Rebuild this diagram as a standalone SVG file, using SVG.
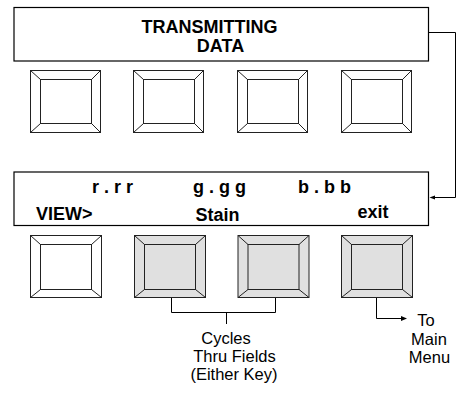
<svg xmlns="http://www.w3.org/2000/svg" width="456" height="393" viewBox="0 0 456 393">
<defs>
<style>
.frame{fill:#fff;stroke:#000;stroke-width:1.2}
.btn rect, .btn line{stroke:#222;stroke-width:1;fill:none}
.btn rect.o{fill:#fff}
.btn.g rect.o{fill:#e0e0e0}
.bt{font-family:"Liberation Sans",Arial,sans-serif;font-weight:bold;font-size:18px;fill:#000}
.nt{font-family:"Liberation Sans",Arial,sans-serif;font-size:16.5px;fill:#000}
.con{fill:none;stroke:#000;stroke-width:1}
.ah{fill:#000}
</style>
</defs>

<g id="display1">
<rect class="frame" x="14" y="7.5" width="414.5" height="53.5"/>
<text class="bt" x="209.5" y="32.5" text-anchor="middle">TRANSMITTING</text>
<text class="bt" x="220.5" y="52" text-anchor="middle">DATA</text>
</g>

<g id="k1a" class="btn"><rect class="o" x="30.5" y="70.5" width="70" height="62"/><rect x="40.5" y="79.5" width="51" height="44"/><line x1="30.5" y1="70.5" x2="40.5" y2="79.5"/><line x1="100.5" y1="70.5" x2="91.5" y2="79.5"/><line x1="30.5" y1="132.5" x2="40.5" y2="123.5"/><line x1="100.5" y1="132.5" x2="91.5" y2="123.5"/></g>
<g id="k1b" class="btn"><rect class="o" x="133.5" y="70.5" width="70" height="62"/><rect x="143.5" y="79.5" width="51" height="44"/><line x1="133.5" y1="70.5" x2="143.5" y2="79.5"/><line x1="203.5" y1="70.5" x2="194.5" y2="79.5"/><line x1="133.5" y1="132.5" x2="143.5" y2="123.5"/><line x1="203.5" y1="132.5" x2="194.5" y2="123.5"/></g>
<g id="k1c" class="btn"><rect class="o" x="237.5" y="70.5" width="70" height="62"/><rect x="247.5" y="79.5" width="51" height="44"/><line x1="237.5" y1="70.5" x2="247.5" y2="79.5"/><line x1="307.5" y1="70.5" x2="298.5" y2="79.5"/><line x1="237.5" y1="132.5" x2="247.5" y2="123.5"/><line x1="307.5" y1="132.5" x2="298.5" y2="123.5"/></g>
<g id="k1d" class="btn"><rect class="o" x="341.5" y="70.5" width="70" height="62"/><rect x="351.5" y="79.5" width="51" height="44"/><line x1="341.5" y1="70.5" x2="351.5" y2="79.5"/><line x1="411.5" y1="70.5" x2="402.5" y2="79.5"/><line x1="341.5" y1="132.5" x2="351.5" y2="123.5"/><line x1="411.5" y1="132.5" x2="402.5" y2="123.5"/></g>

<g id="display2">
<rect class="frame" x="14" y="172" width="414.5" height="53.5"/>
<text class="bt" x="92" y="193">r . r r</text>
<text class="bt" x="193" y="193">g . g g</text>
<text class="bt" x="298" y="193">b . b b</text>
<text class="bt" x="36" y="220">VIEW&gt;</text>
<text class="bt" x="217.5" y="220.5" text-anchor="middle">Stain</text>
<text class="bt" x="373" y="218" text-anchor="middle">exit</text>
</g>

<g id="k2a" class="btn"><rect class="o" x="30.5" y="235.5" width="71" height="62"/><rect x="40.5" y="244.5" width="51" height="45"/><line x1="30.5" y1="235.5" x2="40.5" y2="244.5"/><line x1="101.5" y1="235.5" x2="91.5" y2="244.5"/><line x1="30.5" y1="297.5" x2="40.5" y2="289.5"/><line x1="101.5" y1="297.5" x2="91.5" y2="289.5"/></g>
<g id="k2b" class="btn g"><rect class="o" x="134.5" y="235.5" width="71" height="62"/><rect x="144.5" y="244.5" width="51" height="45"/><line x1="134.5" y1="235.5" x2="144.5" y2="244.5"/><line x1="205.5" y1="235.5" x2="195.5" y2="244.5"/><line x1="134.5" y1="297.5" x2="144.5" y2="289.5"/><line x1="205.5" y1="297.5" x2="195.5" y2="289.5"/></g>
<g id="k2c" class="btn g"><rect class="o" x="238" y="235.5" width="71" height="62"/><rect x="248" y="244.5" width="51" height="45"/><line x1="238" y1="235.5" x2="248" y2="244.5"/><line x1="309" y1="235.5" x2="299" y2="244.5"/><line x1="238" y1="297.5" x2="248" y2="289.5"/><line x1="309" y1="297.5" x2="299" y2="289.5"/></g>
<g id="k2d" class="btn g"><rect class="o" x="341.5" y="235.5" width="71" height="62"/><rect x="351.5" y="244.5" width="51" height="45"/><line x1="341.5" y1="235.5" x2="351.5" y2="244.5"/><line x1="412.5" y1="235.5" x2="402.5" y2="244.5"/><line x1="341.5" y1="297.5" x2="351.5" y2="289.5"/><line x1="412.5" y1="297.5" x2="402.5" y2="289.5"/></g>

<g id="connectors">
<path class="con" d="M428.5,32.5 H455.5 V197.5 H433"/>
<path class="ah" d="M429.5,197.5 L435,195.5 L435,199.5 z"/>
<path class="con" d="M171.5,298 V312.5 H275.5 V298"/>
<path class="con" d="M226.5,312.5 V324"/>
<path class="con" d="M376.5,298 V318.5 H402"/>
<path class="ah" d="M407,318.5 L401,316 L401,321 z"/>
</g>

<g id="label-cycles">
<text class="nt" x="226" y="343.5" text-anchor="middle">Cycles</text>
<text class="nt" x="234.5" y="362" text-anchor="middle">Thru Fields</text>
<text class="nt" x="234" y="380" text-anchor="middle">(Either Key)</text>
</g>
<g id="label-menu">
<text class="nt" x="426" y="326" text-anchor="middle">To</text>
<text class="nt" x="429" y="344.5" text-anchor="middle">Main</text>
<text class="nt" x="429.5" y="363" text-anchor="middle">Menu</text>
</g>
</svg>
